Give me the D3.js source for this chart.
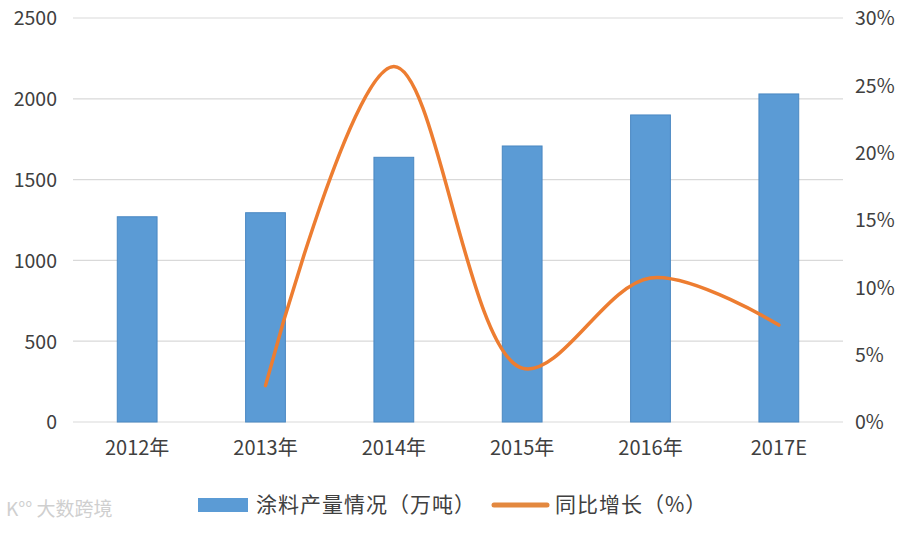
<!DOCTYPE html>
<html>
<head>
<meta charset="utf-8">
<script src="https://cdn.jsdelivr.net/npm/d3@7"></script>
<style>
  body { margin: 0; background: #fff; }
  text { font-family: "Noto Sans CJK SC", "Noto Sans", sans-serif; fill: #404040; }
</style>
</head>
<body>
<script>
'use strict';

// chart data
const years = ['2012年', '2013年', '2014年', '2015年', '2016年', '2017E'];
const output = [1270, 1295, 1638, 1708, 1900, 2030];          // 万吨
const growthYears = ['2013年', '2014年', '2015年', '2016年', '2017E'];
const growth = [2.7, 26.4, 4.0, 10.7, 7.2];                    // %
const leftTicks = [0, 500, 1000, 1500, 2000, 2500];
const rightTicks = [0, 5, 10, 15, 20, 25, 30];
const barName = '涂料产量情况（万吨）';
const lineName = '同比增长（%）';

(function() {
  const width = 900, height = 533;
  const plot = { left: 73, right: 843, top: 18, bottom: 422 };

  let svg = d3.select('body').append('svg')
    .attr('width', width)
    .attr('height', height);

  let x = d3.scaleBand()
    .domain(years)
    .range([plot.left, plot.right])
    .paddingInner(0.69)
    .paddingOuter(0.345);

  let yLeft = d3.scaleLinear().domain([0, 2500]).range([plot.bottom, plot.top]);
  let yRight = d3.scaleLinear().domain([0, 30]).range([plot.bottom, plot.top]);

  // gridlines
  svg.append('g')
    .selectAll('line')
    .data(leftTicks)
    .enter()
    .append('line')
    .attr('x1', plot.left)
    .attr('x2', plot.right)
    .attr('y1', d => yLeft(d))
    .attr('y2', d => yLeft(d))
    .attr('stroke', '#d9d9d9')
    .attr('stroke-width', 1.2);

  // left axis
  let leftAxis = svg.append('g')
    .attr('transform', 'translate(' + (plot.left - 16) + ',0)')
    .call(d3.axisLeft(yLeft).tickValues(leftTicks).tickSize(0).tickPadding(0)
      .tickFormat(d3.format('d')));
  leftAxis.select('.domain').remove();
  leftAxis.selectAll('text')
    .style('font-size', '19.5px')
    .style('fill', '#404040')
    .attr('dy', '0.35em');

  // right axis
  let rightAxis = svg.append('g')
    .attr('transform', 'translate(' + (plot.right + 12) + ',0)')
    .call(d3.axisRight(yRight).tickValues(rightTicks).tickSize(0).tickPadding(0)
      .tickFormat(d => d + '%'));
  rightAxis.select('.domain').remove();
  rightAxis.selectAll('text')
    .style('font-size', '19.5px')
    .style('fill', '#404040')
    .attr('dy', '0.35em');

  // x axis labels
  let xAxis = svg.append('g')
    .attr('transform', 'translate(0,' + (plot.bottom + 18) + ')')
    .call(d3.axisBottom(x).tickSize(0).tickPadding(0));
  xAxis.select('.domain').remove();
  xAxis.selectAll('text')
    .style('font-size', '20px')
    .style('fill', '#404040')
    .attr('dy', '0.75em');

  // bars
  svg.append('g')
    .selectAll('rect')
    .data(output)
    .enter()
    .append('rect')
    .attr('x', (d, i) => x(years[i]))
    .attr('y', d => yLeft(d))
    .attr('width', x.bandwidth())
    .attr('height', d => plot.bottom - yLeft(d))
    .attr('fill', '#5b9bd5')
    .attr('stroke', '#4a88c2')
    .attr('stroke-width', 1);

  // smoothed growth line
  let line = d3.line()
    .x((d, i) => x(growthYears[i]) + x.bandwidth() / 2)
    .y(d => yRight(d))
    .curve(d3.curveCatmullRom.alpha(0.5));

  svg.append('path')
    .datum(growth)
    .attr('d', line)
    .attr('fill', 'none')
    .attr('stroke', '#ed7d31')
    .attr('stroke-width', 3.5)
    .attr('stroke-linecap', 'round');

  // legend
  let legend = svg.append('g').attr('transform', 'translate(0,505)');
  legend.append('rect')
    .attr('x', 198).attr('y', -7)
    .attr('width', 50).attr('height', 14)
    .attr('fill', '#5b9bd5');
  legend.append('text')
    .attr('x', 256).attr('y', 0).attr('dy', '0.35em')
    .style('font-size', '21px')
    .style('letter-spacing', '1px')
    .text(barName);
  legend.append('line')
    .attr('x1', 494).attr('x2', 547)
    .attr('y1', 0).attr('y2', 0)
    .attr('stroke', '#e3883f')
    .attr('stroke-width', 5)
    .attr('stroke-linecap', 'round');
  legend.append('text')
    .attr('x', 555).attr('y', 0).attr('dy', '0.35em')
    .style('font-size', '21px')
    .style('letter-spacing', '1px')
    .text(lineName);

  // source mark
  svg.append('text')
    .attr('x', 6).attr('y', 516)
    .style('font-size', '19px')
    .style('fill', '#cfcfcf')
    .text('K°° 大数跨境');
})();
</script>
</body>
</html>
